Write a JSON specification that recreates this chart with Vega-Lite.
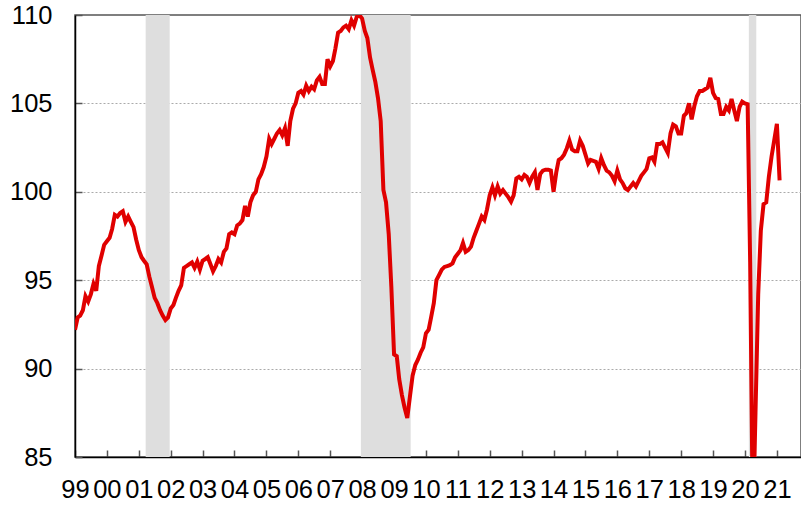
{
 "$schema": "https://vega.github.io/schema/vega-lite/v6.json",
 "width": 726,
 "height": 442,
 "autosize": {"type": "none"},
 "padding": {"left": 75, "top": 15, "right": 0, "bottom": 50},
 "background": "white",
 "config": {"font": "Liberation Sans", "view": {"stroke": "#555555", "strokeWidth": 1.5}},
 "datasets": {
  "rec": [
   {"start": "2001-03-20", "end": "2001-12-20"},
   {"start": "2007-12-18", "end": "2009-07-10"},
   {"start": "2020-02-15", "end": "2020-05-10"}
  ],
  "series": [
   {"d":"1999-01-01","v":92.2},{"d":"1999-02-01","v":92.9},{"d":"1999-03-01","v":93.0},{"d":"1999-04-01","v":93.3},{"d":"1999-05-01","v":94.1},{"d":"1999-06-01","v":93.8},{"d":"1999-07-01","v":94.2},{"d":"1999-08-01","v":94.8},{"d":"1999-09-01","v":94.4},{"d":"1999-10-01","v":95.8},{"d":"1999-11-01","v":96.4},{"d":"1999-12-01","v":97.0},
   {"d":"2000-01-01","v":97.2},{"d":"2000-02-01","v":97.4},{"d":"2000-03-01","v":97.9},{"d":"2000-04-01","v":98.7},{"d":"2000-05-01","v":98.6},{"d":"2000-06-01","v":98.8},{"d":"2000-07-01","v":98.9},{"d":"2000-08-01","v":98.3},{"d":"2000-09-01","v":98.6},{"d":"2000-10-01","v":98.3},{"d":"2000-11-01","v":98.0},{"d":"2000-12-01","v":97.3},
   {"d":"2001-01-01","v":96.7},{"d":"2001-02-01","v":96.3},{"d":"2001-03-01","v":96.1},{"d":"2001-04-01","v":95.9},{"d":"2001-05-01","v":95.2},{"d":"2001-06-01","v":94.6},{"d":"2001-07-01","v":94.0},{"d":"2001-08-01","v":93.7},{"d":"2001-09-01","v":93.3},{"d":"2001-10-01","v":93.0},{"d":"2001-11-01","v":92.75},{"d":"2001-12-01","v":92.9},
   {"d":"2002-01-01","v":93.4},{"d":"2002-02-01","v":93.6},{"d":"2002-03-01","v":94.0},{"d":"2002-04-01","v":94.4},{"d":"2002-05-01","v":94.7},{"d":"2002-06-01","v":95.7},{"d":"2002-07-01","v":95.8},{"d":"2002-08-01","v":95.9},{"d":"2002-09-01","v":96.0},{"d":"2002-10-01","v":95.7},{"d":"2002-11-01","v":96.05},{"d":"2002-12-01","v":95.6},
   {"d":"2003-01-01","v":96.1},{"d":"2003-02-01","v":96.2},{"d":"2003-03-01","v":96.3},{"d":"2003-04-01","v":95.9},{"d":"2003-05-01","v":95.5},{"d":"2003-06-01","v":95.8},{"d":"2003-07-01","v":96.2},{"d":"2003-08-01","v":96.0},{"d":"2003-09-01","v":96.6},{"d":"2003-10-01","v":96.8},{"d":"2003-11-01","v":97.6},{"d":"2003-12-01","v":97.7},
   {"d":"2004-01-01","v":97.6},{"d":"2004-02-01","v":98.1},{"d":"2004-03-01","v":98.2},{"d":"2004-04-01","v":98.4},{"d":"2004-05-01","v":99.2},{"d":"2004-06-01","v":98.6},{"d":"2004-07-01","v":99.4},{"d":"2004-08-01","v":99.8},{"d":"2004-09-01","v":100.0},{"d":"2004-10-01","v":100.7},{"d":"2004-11-01","v":101.0},{"d":"2004-12-01","v":101.4},
   {"d":"2005-01-01","v":102.0},{"d":"2005-02-01","v":103.0},{"d":"2005-03-01","v":102.7},{"d":"2005-04-01","v":103.0},{"d":"2005-05-01","v":103.3},{"d":"2005-06-01","v":103.5},{"d":"2005-07-01","v":103.2},{"d":"2005-08-01","v":103.6},{"d":"2005-09-01","v":102.6},{"d":"2005-10-01","v":104.0},{"d":"2005-11-01","v":104.7},{"d":"2005-12-01","v":105.0},
   {"d":"2006-01-01","v":105.6},{"d":"2006-02-01","v":105.7},{"d":"2006-03-01","v":105.5},{"d":"2006-04-01","v":106.0},{"d":"2006-05-01","v":105.7},{"d":"2006-06-01","v":105.95},{"d":"2006-07-01","v":105.8},{"d":"2006-08-01","v":106.3},{"d":"2006-09-01","v":106.5},{"d":"2006-10-01","v":106.1},{"d":"2006-11-01","v":106.1},{"d":"2006-12-01","v":107.5},
   {"d":"2007-01-01","v":107.1},{"d":"2007-02-01","v":107.4},{"d":"2007-03-01","v":108.1},{"d":"2007-04-01","v":109.0},{"d":"2007-05-01","v":109.1},{"d":"2007-06-01","v":109.3},{"d":"2007-07-01","v":109.4},{"d":"2007-08-01","v":109.2},{"d":"2007-09-01","v":109.7},{"d":"2007-10-01","v":109.4},{"d":"2007-11-01","v":109.9},{"d":"2007-12-01","v":110.0},
   {"d":"2008-01-01","v":109.8},{"d":"2008-02-01","v":109.1},{"d":"2008-03-01","v":108.7},{"d":"2008-04-01","v":107.6},{"d":"2008-05-01","v":106.9},{"d":"2008-06-01","v":106.2},{"d":"2008-07-01","v":105.3},{"d":"2008-08-01","v":104.0},{"d":"2008-09-01","v":100.1},{"d":"2008-10-01","v":99.4},{"d":"2008-11-01","v":97.6},{"d":"2008-12-01","v":94.6},
   {"d":"2009-01-01","v":90.8},{"d":"2009-02-01","v":90.7},{"d":"2009-03-01","v":89.4},{"d":"2009-04-01","v":88.5},{"d":"2009-05-01","v":87.8},{"d":"2009-06-01","v":87.2},{"d":"2009-07-01","v":88.4},{"d":"2009-08-01","v":89.6},{"d":"2009-09-01","v":90.2},{"d":"2009-10-01","v":90.5},{"d":"2009-11-01","v":90.9},{"d":"2009-12-01","v":91.2},
   {"d":"2010-01-01","v":92.0},{"d":"2010-02-01","v":92.2},{"d":"2010-03-01","v":92.9},{"d":"2010-04-01","v":93.7},{"d":"2010-05-01","v":95.0},{"d":"2010-06-01","v":95.3},{"d":"2010-07-01","v":95.6},{"d":"2010-08-01","v":95.75},{"d":"2010-09-01","v":95.8},{"d":"2010-10-01","v":95.85},{"d":"2010-11-01","v":95.95},{"d":"2010-12-01","v":96.3},
   {"d":"2011-01-01","v":96.5},{"d":"2011-02-01","v":96.7},{"d":"2011-03-01","v":97.1},{"d":"2011-04-01","v":96.6},{"d":"2011-05-01","v":96.7},{"d":"2011-06-01","v":96.9},{"d":"2011-07-01","v":97.4},{"d":"2011-08-01","v":97.8},{"d":"2011-09-01","v":98.2},{"d":"2011-10-01","v":98.6},{"d":"2011-11-01","v":98.4},{"d":"2011-12-01","v":99.0},
   {"d":"2012-01-01","v":99.8},{"d":"2012-02-01","v":100.25},{"d":"2012-03-01","v":99.8},{"d":"2012-04-01","v":100.3},{"d":"2012-05-01","v":99.9},{"d":"2012-06-01","v":100.1},{"d":"2012-07-01","v":99.9},{"d":"2012-08-01","v":99.7},{"d":"2012-09-01","v":99.45},{"d":"2012-10-01","v":99.8},{"d":"2012-11-01","v":100.75},{"d":"2012-12-01","v":100.85},
   {"d":"2013-01-01","v":100.7},{"d":"2013-02-01","v":100.95},{"d":"2013-03-01","v":100.85},{"d":"2013-04-01","v":100.5},{"d":"2013-05-01","v":100.85},{"d":"2013-06-01","v":101.1},{"d":"2013-07-01","v":100.1},{"d":"2013-08-01","v":101.0},{"d":"2013-09-01","v":101.2},{"d":"2013-10-01","v":101.25},{"d":"2013-11-01","v":101.25},{"d":"2013-12-01","v":101.2},
   {"d":"2014-01-01","v":100.0},{"d":"2014-02-01","v":101.1},{"d":"2014-03-01","v":101.8},{"d":"2014-04-01","v":101.9},{"d":"2014-05-01","v":102.1},{"d":"2014-06-01","v":102.45},{"d":"2014-07-01","v":102.9},{"d":"2014-08-01","v":102.4},{"d":"2014-09-01","v":102.3},{"d":"2014-10-01","v":102.3},{"d":"2014-11-01","v":102.9},{"d":"2014-12-01","v":102.6},
   {"d":"2015-01-01","v":102.1},{"d":"2015-02-01","v":101.6},{"d":"2015-03-01","v":101.8},{"d":"2015-04-01","v":101.75},{"d":"2015-05-01","v":101.7},{"d":"2015-06-01","v":101.3},{"d":"2015-07-01","v":101.9},{"d":"2015-08-01","v":101.5},{"d":"2015-09-01","v":101.2},{"d":"2015-10-01","v":101.1},{"d":"2015-11-01","v":100.9},{"d":"2015-12-01","v":100.6},
   {"d":"2016-01-01","v":101.2},{"d":"2016-02-01","v":100.7},{"d":"2016-03-01","v":100.5},{"d":"2016-04-01","v":100.2},{"d":"2016-05-01","v":100.1},{"d":"2016-06-01","v":100.3},{"d":"2016-07-01","v":100.5},{"d":"2016-08-01","v":100.3},{"d":"2016-09-01","v":100.6},{"d":"2016-10-01","v":100.9},{"d":"2016-11-01","v":101.1},{"d":"2016-12-01","v":101.3},
   {"d":"2017-01-01","v":101.9},{"d":"2017-02-01","v":101.95},{"d":"2017-03-01","v":101.7},{"d":"2017-04-01","v":102.7},{"d":"2017-05-01","v":102.7},{"d":"2017-06-01","v":102.8},{"d":"2017-07-01","v":102.5},{"d":"2017-08-01","v":102.2},{"d":"2017-09-01","v":103.3},{"d":"2017-10-01","v":103.8},{"d":"2017-11-01","v":103.7},{"d":"2017-12-01","v":103.3},
   {"d":"2018-01-01","v":103.3},{"d":"2018-02-01","v":104.3},{"d":"2018-03-01","v":104.45},{"d":"2018-04-01","v":105.0},{"d":"2018-05-01","v":104.1},{"d":"2018-06-01","v":104.85},{"d":"2018-07-01","v":105.4},{"d":"2018-08-01","v":105.7},{"d":"2018-09-01","v":105.7},{"d":"2018-10-01","v":105.8},{"d":"2018-11-01","v":105.9},{"d":"2018-12-01","v":106.45},
   {"d":"2019-01-01","v":105.6},{"d":"2019-02-01","v":105.3},{"d":"2019-03-01","v":105.25},{"d":"2019-04-01","v":104.4},{"d":"2019-05-01","v":104.4},{"d":"2019-06-01","v":104.8},{"d":"2019-07-01","v":104.6},{"d":"2019-08-01","v":105.25},{"d":"2019-09-01","v":104.6},{"d":"2019-10-01","v":104.0},{"d":"2019-11-01","v":104.8},{"d":"2019-12-01","v":105.1},
   {"d":"2020-01-01","v":105.0},{"d":"2020-02-01","v":104.95},{"d":"2020-03-01","v":96.0},{"d":"2020-04-01","v":81.0},{"d":"2020-05-01","v":87.5},{"d":"2020-06-01","v":94.2},{"d":"2020-07-01","v":97.8},{"d":"2020-08-01","v":99.3},{"d":"2020-09-01","v":99.4},{"d":"2020-10-01","v":100.85},{"d":"2020-11-01","v":102.0},{"d":"2020-12-01","v":102.9},
   {"d":"2021-01-01","v":103.85},{"d":"2021-02-01","v":100.65}
  ]
 },
 "layer": [
  {
   "data": {"name": "rec"},
   "mark": {"type": "rect", "color": "#dedede"},
   "encoding": {
    "x": {"field": "start", "type": "temporal", "title": null, "axis": {"labelOverlap": false, "tickCount": {"interval": "year", "step": 1}}},
    "x2": {"field": "end"}
   }
  },
  {
   "data": {"name": "series"},
   "mark": {"type": "line", "color": "#e00000", "strokeWidth": 4, "clip": true},
   "encoding": {
    "x": {
     "field": "d", "type": "temporal", "title": null,
     "scale": {"type": "utc", "domain": [{"year": 1999, "month": 1, "date": 1, "utc": true}, {"year": 2021, "month": 10, "date": 4, "utc": true}]},
     "axis": {
      "tickCount": {"interval": "year", "step": 1},
      "labelExpr": "utcFormat(datum.value, '%y')",
      "grid": false,
      "domainColor": "#000000", "domainWidth": 1.5,
      "tickColor": "#555555", "tickWidth": 1.5, "tickSize": -7,
      "labelFontSize": 25.5, "labelColor": "#000000", "labelPadding": 27,
      "labelFlush": false, "labelOverlap": false, "labelBound": false
     }
    },
    "y": {
     "field": "v", "type": "quantitative", "title": null,
     "scale": {"domain": [85, 110], "nice": false, "zero": false},
     "axis": {
      "values": [85, 90, 95, 100, 105, 110],
      "grid": true,
      "gridColor": {"condition": {"test": "datum.value == 85 || datum.value == 110", "value": "transparent"}, "value": "#aaaaaa"},
      "gridDash": [2, 2], "gridWidth": 1,
      "domainColor": "#000000", "domainWidth": 1.5,
      "tickColor": "#555555", "tickWidth": 1.5, "tickSize": -7,
      "labelFontSize": 25.5, "labelColor": "#000000", "labelPadding": 30
     }
    }
   }
  }
 ]
}
